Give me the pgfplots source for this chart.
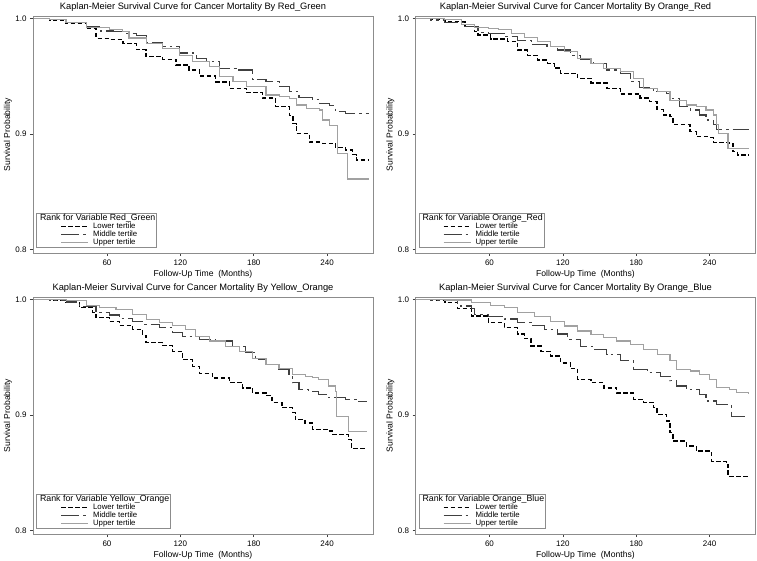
\documentclass[border=0pt]{standalone}
\usepackage{pgfplots}
\pgfplotsset{compat=1.18}
\usepackage{fontspec}
\setmainfont{Liberation Sans}
\pgfplotsset{
 kmaxis/.style={
  scale only axis, width=340pt, height=237pt,
  xmin=-0.5, xmax=277.5, ymin=0.797, ymax=1.002,
  xtick={60,120,180,240}, ytick={0.8,0.9,1.0},
  yticklabel style={/pgf/number format/.cd, fixed, fixed zerofill, precision=1},
  /pgf/number format/assume math mode=true,
  tick align=outside, xtick pos=bottom, ytick pos=left, major tick length=3pt,
  axis line style={draw=black!45, line width=0.8pt},
  tick style={black!75, line width=0.6pt},
  tick label style={font=\fontsize{8}{9}\selectfont},
  every axis title/.style={at={(0.5,1)}, anchor=south, font=\fontsize{9.3}{10}\selectfont, yshift=1pt, xshift=-10pt},
  xlabel={Follow-Up Time\ \ (Months)}, ylabel={Survival Probability},
  xlabel style={font=\fontsize{8.6}{10}\selectfont, at={(axis description cs:0.5,0)}, anchor=north, yshift=-13.4pt},
  every axis y label/.style={font=\fontsize{8.6}{10}\selectfont, at={(axis description cs:0,0.5)}, xshift=-25pt, anchor=center, rotate=90},
  legend cell align=left,
  legend style={at={(axis description cs:0,0)}, anchor=south west, xshift=3pt, yshift=5pt,
    draw=black!45, line width=0.8pt, fill=white, inner sep=1pt, row sep=0pt,
    font=\fontsize{7.8}{8}\selectfont,
    nodes={inner sep=0.4pt}},
  legend image code/.code={\path (0pt,0pt) (54pt,0pt); \draw[##1] (23pt,0pt) -- (50pt,0pt);},
  const plot,
 },
 lowerS/.style={black, line width=1.3pt, dash pattern=on 4.5pt off 2.5pt},
 middleS/.style={black!75, line width=1.1pt, dash pattern=on 18pt off 4pt on 2.5pt off 4pt},
 upperS/.style={black!37, line width=1.1pt},
}
\begin{document}
\begin{tikzpicture}
% Top left
\begin{axis}[kmaxis, at={(33pt,545pt)}, anchor=north west,
  title={Kaplan-Meier Survival Curve for Cancer Mortality By Red\_Green}]
\addlegendimage{empty legend}
\addlegendentry{\hspace*{-53pt}\fontsize{8.8}{9}\selectfont Rank for Variable Red\_Green}
\addplot[lowerS] coordinates {(0,1.0)(13,0.9986)(26.5,0.9957)(43,0.9914)(51,0.9827)(62,0.9818)(73,0.978)(84,0.973)(92,0.967)(105.5,0.9646)(116.5,0.9597)(127,0.9553)(135.5,0.950)(149,0.945)(160,0.9395)(174,0.9357)(187,0.931)(198,0.9236)(209,0.916)(212,0.909)(215,0.9006)(225.5,0.893)(236,0.892)(247,0.888)(255,0.886)(261,0.882)(264,0.8775)(274.6,0.8775)};
\addlegendentry{Lower tertile}
\addplot[middleS] coordinates {(0,1)(13,0.9988)(26.5,0.9963)(43,0.993)(54,0.989)(65,0.9885)(75.5,0.987)(84,0.985)(92,0.979)(105.5,0.9755)(119,0.970)(133,0.9654)(141,0.9625)(152,0.9568)(165.5,0.9553)(179,0.9467)(190,0.9452)(201,0.941)(209,0.9366)(217,0.9317)(228,0.930)(234,0.9265)(242,0.9242)(247,0.919)(255,0.9173)(274.6,0.9173)};
\addlegendentry{Middle tertile}
\addplot[upperS] coordinates {(0,1)(13,0.9988)(26.5,0.996)(43,0.992)(62,0.9905)(73,0.9885)(78,0.983)(92,0.978)(105.5,0.974)(119,0.968)(130,0.9625)(144,0.958)(152,0.9496)(163,0.945)(174,0.941)(190,0.9337)(201,0.932)(209,0.931)(215,0.925)(223,0.922)(234,0.9207)(236.4,0.912)(242,0.907)(248.7,0.883)(257,0.861)(274.6,0.861)};
\addlegendentry{Upper tertile}
\end{axis}
% Top right
\begin{axis}[kmaxis, at={(415.5pt,545pt)}, anchor=north west,
  title={Kaplan-Meier Survival Curve for Cancer Mortality By Orange\_Red}]
\addlegendimage{empty legend}
\addlegendentry{\hspace*{-53pt}\fontsize{8.8}{9}\selectfont Rank for Variable Orange\_Red}
\addplot[lowerS] coordinates {(0,1)(12,0.9988)(23.5,0.997)(40,0.993)(48,0.9885)(50.6,0.9856)(61,0.982)(75,0.980)(83,0.9726)(91,0.968)(99,0.964)(107.5,0.961)(113,0.957)(118,0.9524)(132,0.948)(143,0.944)(156,0.9395)(167,0.9346)(183,0.931)(191,0.928)(197,0.921)(202,0.9164)(207.6,0.915)(210,0.908)(224,0.902)(229,0.8977)(240,0.897)(243,0.8928)(256,0.892)(259,0.8847)(263,0.8818)(272,0.8818)};
\addlegendentry{Lower tertile}
\addplot[middleS] coordinates {(0,1)(12,0.9985)(23.5,0.996)(40,0.993)(50.6,0.988)(59,0.987)(72,0.984)(83,0.981)(94,0.977)(107,0.9755)(115.6,0.9726)(126,0.968)(134.5,0.964)(145,0.961)(156,0.9553)(167,0.9524)(175,0.945)(183,0.940)(194,0.9366)(205,0.935)(207.6,0.931)(215.7,0.9236)(224,0.9207)(232,0.9164)(237,0.912)(243,0.908)(245.5,0.904)(272,0.904)};
\addlegendentry{Middle tertile}
\addplot[upperS] coordinates {(0,1)(23.5,0.9986)(37,0.995)(48,0.992)(59,0.991)(67,0.9905)(77.7,0.987)(88.5,0.9836)(99,0.980)(110,0.9755)(121,0.971)(132,0.9654)(143,0.961)(153.5,0.9568)(167,0.954)(178,0.948)(186,0.9395)(197,0.9366)(207.6,0.929)(221,0.925)(229,0.9236)(237,0.9207)(243,0.9164)(245.5,0.9078)(247,0.9006)(255,0.8876)(272,0.8876)};
\addlegendentry{Upper tertile}
\end{axis}
% Bottom left
\begin{axis}[kmaxis, at={(33pt,264pt)}, anchor=north west,
  title={Kaplan-Meier Survival Curve for Cancer Mortality By Yellow\_Orange}]
\addlegendimage{empty legend}
\addlegendentry{\hspace*{-53pt}\fontsize{8.8}{9}\selectfont Rank for Variable Yellow\_Orange}
\addplot[lowerS] coordinates {(0,1)(13,0.9988)(26.6,0.9971)(37.5,0.9928)(48.4,0.9884)(51,0.984)(62,0.981)(70,0.9775)(81,0.974)(89,0.9688)(92,0.9624)(105.5,0.960)(113.6,0.955)(121.8,0.948)(130,0.942)(135.4,0.936)(146,0.932)(160,0.928)(171,0.9234)(179,0.919)(190,0.9165)(195,0.911)(203,0.9064)(211.5,0.902)(214,0.896)(222,0.893)(228,0.8873)(241,0.886)(244,0.883)(257.7,0.879)(260,0.871)(272.7,0.871)};
\addlegendentry{Lower tertile}
\addplot[middleS] coordinates {(0,1)(13,0.9990)(26.6,0.9977)(37.5,0.9934)(51,0.9884)(62,0.9864)(70,0.9832)(81,0.981)(89,0.978)(103,0.9754)(113.6,0.971)(121.8,0.968)(135.4,0.9653)(149,0.9639)(162.6,0.9595)(173.5,0.9538)(181.6,0.948)(190,0.9436)(200.6,0.9393)(208.8,0.935)(211.5,0.9277)(217,0.922)(225,0.9205)(233,0.9176)(241,0.9147)(255,0.9133)(266,0.9113)(272.7,0.9113)};
\addlegendentry{Middle tertile}
\addplot[upperS] coordinates {(0,1)(26.6,0.9986)(43,0.9948)(54,0.9928)(67.4,0.9908)(81,0.987)(92,0.9827)(103,0.9798)(113.6,0.977)(124.5,0.974)(132.7,0.968)(143.6,0.9639)(157,0.9595)(168,0.955)(179,0.949)(190,0.9436)(200.6,0.940)(211.5,0.935)(222,0.9335)(228,0.932)(233,0.9306)(241,0.925)(247,0.9205)(248,0.899)(257.7,0.8853)(272.7,0.8853)};
\addlegendentry{Upper tertile}
\end{axis}
% Bottom right
\begin{axis}[kmaxis, at={(415.5pt,264pt)}, anchor=north west,
  title={Kaplan-Meier Survival Curve for Cancer Mortality By Orange\_Blue}]
\addlegendimage{empty legend}
\addlegendentry{\hspace*{-53pt}\fontsize{8.8}{9}\selectfont Rank for Variable Orange\_Blue}
\addplot[lowerS] coordinates {(0,1)(12,0.9988)(23.5,0.997)(34,0.992)(45,0.9855)(59,0.98)(72,0.9754)(83,0.970)(88.5,0.966)(94,0.9595)(102,0.955)(110,0.951)(118,0.945)(126,0.940)(132,0.9306)(143,0.928)(153.5,0.9234)(164,0.919)(178,0.9136)(186,0.911)(194,0.9064)(197,0.9006)(205,0.8948)(207.6,0.8847)(210,0.8775)(221,0.873)(229,0.8688)(240,0.8674)(241.5,0.860)(253.6,0.857)(255,0.847)(272,0.847)};
\addlegendentry{Lower tertile}
\addplot[middleS] coordinates {(0,1)(12,0.9992)(23.5,0.9986)(34,0.9942)(45,0.992)(48,0.987)(59,0.9855)(72,0.983)(83,0.980)(94,0.977)(105,0.974)(115.6,0.970)(123.7,0.9653)(134.5,0.9595)(145,0.9567)(156,0.9523)(167,0.9467)(178,0.9394)(189,0.9365)(200,0.9336)(207.6,0.9294)(213,0.925)(221,0.922)(232,0.9178)(237,0.912)(245.5,0.909)(257.7,0.899)(272,0.899)};
\addlegendentry{Middle tertile}
\addplot[upperS] coordinates {(0,1)(23.5,0.9994)(45,0.9971)(61,0.9948)(72,0.9928)(83,0.9884)(96.6,0.985)(110,0.981)(121,0.9769)(132,0.9726)(143,0.9697)(153.5,0.9668)(164,0.9639)(175,0.961)(186,0.9567)(197,0.9523)(207.6,0.9467)(213,0.9394)(224,0.938)(232,0.935)(240,0.9306)(245.5,0.9236)(256.4,0.922)(261.8,0.9192)(272,0.918)};
\addlegendentry{Upper tertile}
\end{axis}
\pgfresetboundingbox
\path[use as bounding box] (0pt,0pt) rectangle (757pt,561pt);
\end{tikzpicture}
\end{document}
